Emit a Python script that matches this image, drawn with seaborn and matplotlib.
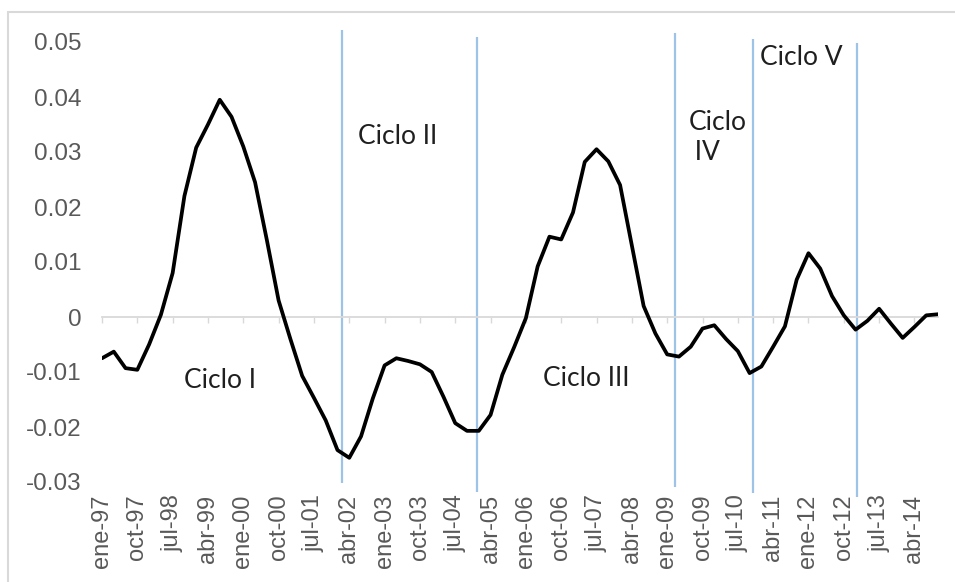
import matplotlib
matplotlib.use("Agg")
import matplotlib.pyplot as plt
import matplotlib.patches as mpatches
import numpy as np
import pandas as pd
import seaborn as sns

# ---- data (quarterly, ene-97 .. oct-14) ----
values = [
    -0.0075, -0.0063, -0.0093, -0.0096, -0.0050, 0.0004, 0.0080, 0.0220,
    0.0308, 0.0350, 0.0395, 0.0364, 0.0310, 0.0245, 0.0140, 0.0030,
    -0.0040, -0.0107, -0.0147, -0.0188, -0.0242, -0.0256, -0.0217, -0.0148,
    -0.0088, -0.0075, -0.0080, -0.0086, -0.0100, -0.0145, -0.0193, -0.0207,
    -0.0207, -0.0178, -0.0105, -0.0055, -0.0002, 0.0092, 0.0146, 0.0141,
    0.0190, 0.0282, 0.0305, 0.0283, 0.0240, 0.0130, 0.0020, -0.0030,
    -0.0068, -0.0072, -0.0054, -0.0021, -0.0015, -0.0040, -0.0062, -0.0102,
    -0.0090, -0.0054, -0.0017, 0.0068, 0.0116, 0.0088, 0.0038, 0.0003,
    -0.0023, -0.0007, 0.0015, -0.0012, -0.0038, -0.0018, 0.0003, 0.0005,
]
x_tick_labels = ['ene-97', 'oct-97', 'jul-98', 'abr-99', 'ene-00', 'oct-00',
                 'jul-01', 'abr-02', 'ene-03', 'oct-03', 'jul-04', 'abr-05',
                 'ene-06', 'oct-06', 'jul-07', 'abr-08', 'ene-09', 'oct-09',
                 'jul-10', 'abr-11', 'ene-12', 'oct-12', 'jul-13', 'abr-14']
y_ticks = [0.05, 0.04, 0.03, 0.02, 0.01, 0.0, -0.01, -0.02, -0.03]
y_tick_labels = ['0.05', '0.04', '0.03', '0.02', '0.01', '0', '-0.01', '-0.02', '-0.03']

# cycle boundaries (quarter index) and their drawn extent
cycle_breaks = [20.4, 31.85, 48.7, 55.3, 64.15]
break_tops = [0.0522, 0.0509, 0.0516, 0.0505, 0.0498]
break_bottoms = [-0.0302, -0.0318, -0.0309, -0.0320, -0.0327]
cycle_names = ['Ciclo I', 'Ciclo II', 'Ciclo III', 'Ciclo\n IV', 'Ciclo V']

df = pd.DataFrame({'q': np.arange(len(values)), 'v': values})

sns.set_theme(style='white')
plt.rcParams['font.family'] = ['Liberation Sans', 'DejaVu Sans']

fig = plt.figure(figsize=(9.55, 5.82), dpi=100)
ax = fig.add_axes([102 / 955, 1 - 482 / 582, (938 - 102) / 955, (482 - 42) / 582])

# outer light frame
fig.patches.append(mpatches.Rectangle((8 / 955, -0.05), 1.2, 1 - 12 / 582 + 0.05,
                                      transform=fig.transFigure, fill=False,
                                      edgecolor='#d9d9d9', linewidth=1.5))

# cycle boundary lines
ax.vlines(cycle_breaks, break_bottoms, break_tops, colors='#9dc3e6',
          linewidth=1.6, clip_on=False, zorder=1)

sns.lineplot(data=df, x='q', y='v', color='black', linewidth=2.7, ax=ax, zorder=3)

ax.set_xlim(0, len(values) - 1)
ax.set_ylim(-0.03, 0.05)
ax.set_xlabel('')
ax.set_ylabel('')

for s in ['left', 'right', 'top']:
    ax.spines[s].set_visible(False)
ax.spines['bottom'].set_position(('data', 0))
ax.spines['bottom'].set_color('#d9d9d9')
ax.spines['bottom'].set_linewidth(1.3)

xt = np.arange(0, len(values), 3)
ax.set_xticks(xt)
ax.tick_params(axis='x', which='both', direction='out', length=4, width=1,
               color='#d9d9d9', labelbottom=False, bottom=True)

ax.set_yticks(y_ticks)
ax.set_yticklabels(y_tick_labels)
ax.tick_params(axis='y', length=0, pad=15, labelsize=17.5, labelcolor='#595959')

sec = ax.secondary_xaxis('bottom')
sec.set_xticks(xt)
sec.set_xticklabels(x_tick_labels, rotation=90)
sec.tick_params(axis='x', length=0, pad=9, labelsize=17, labelcolor='#595959')
sec.spines['bottom'].set_visible(False)

# cycle labels
txt_kw = dict(fontsize=19, color='#1f1f1f', family=['Lato', 'DejaVu Sans'],
              ha='left', va='center')
ax.text(6.97, -0.0116, cycle_names[0], **txt_kw)
ax.text(21.75, 0.0329, cycle_names[1], **txt_kw)
ax.text(37.47, -0.0111, cycle_names[2], **txt_kw)
ax.text(49.79, 0.0327, cycle_names[3], linespacing=1.25, **txt_kw)
ax.text(55.9, 0.0471, cycle_names[4], **txt_kw)

fig.savefig('out.png', dpi=100)
